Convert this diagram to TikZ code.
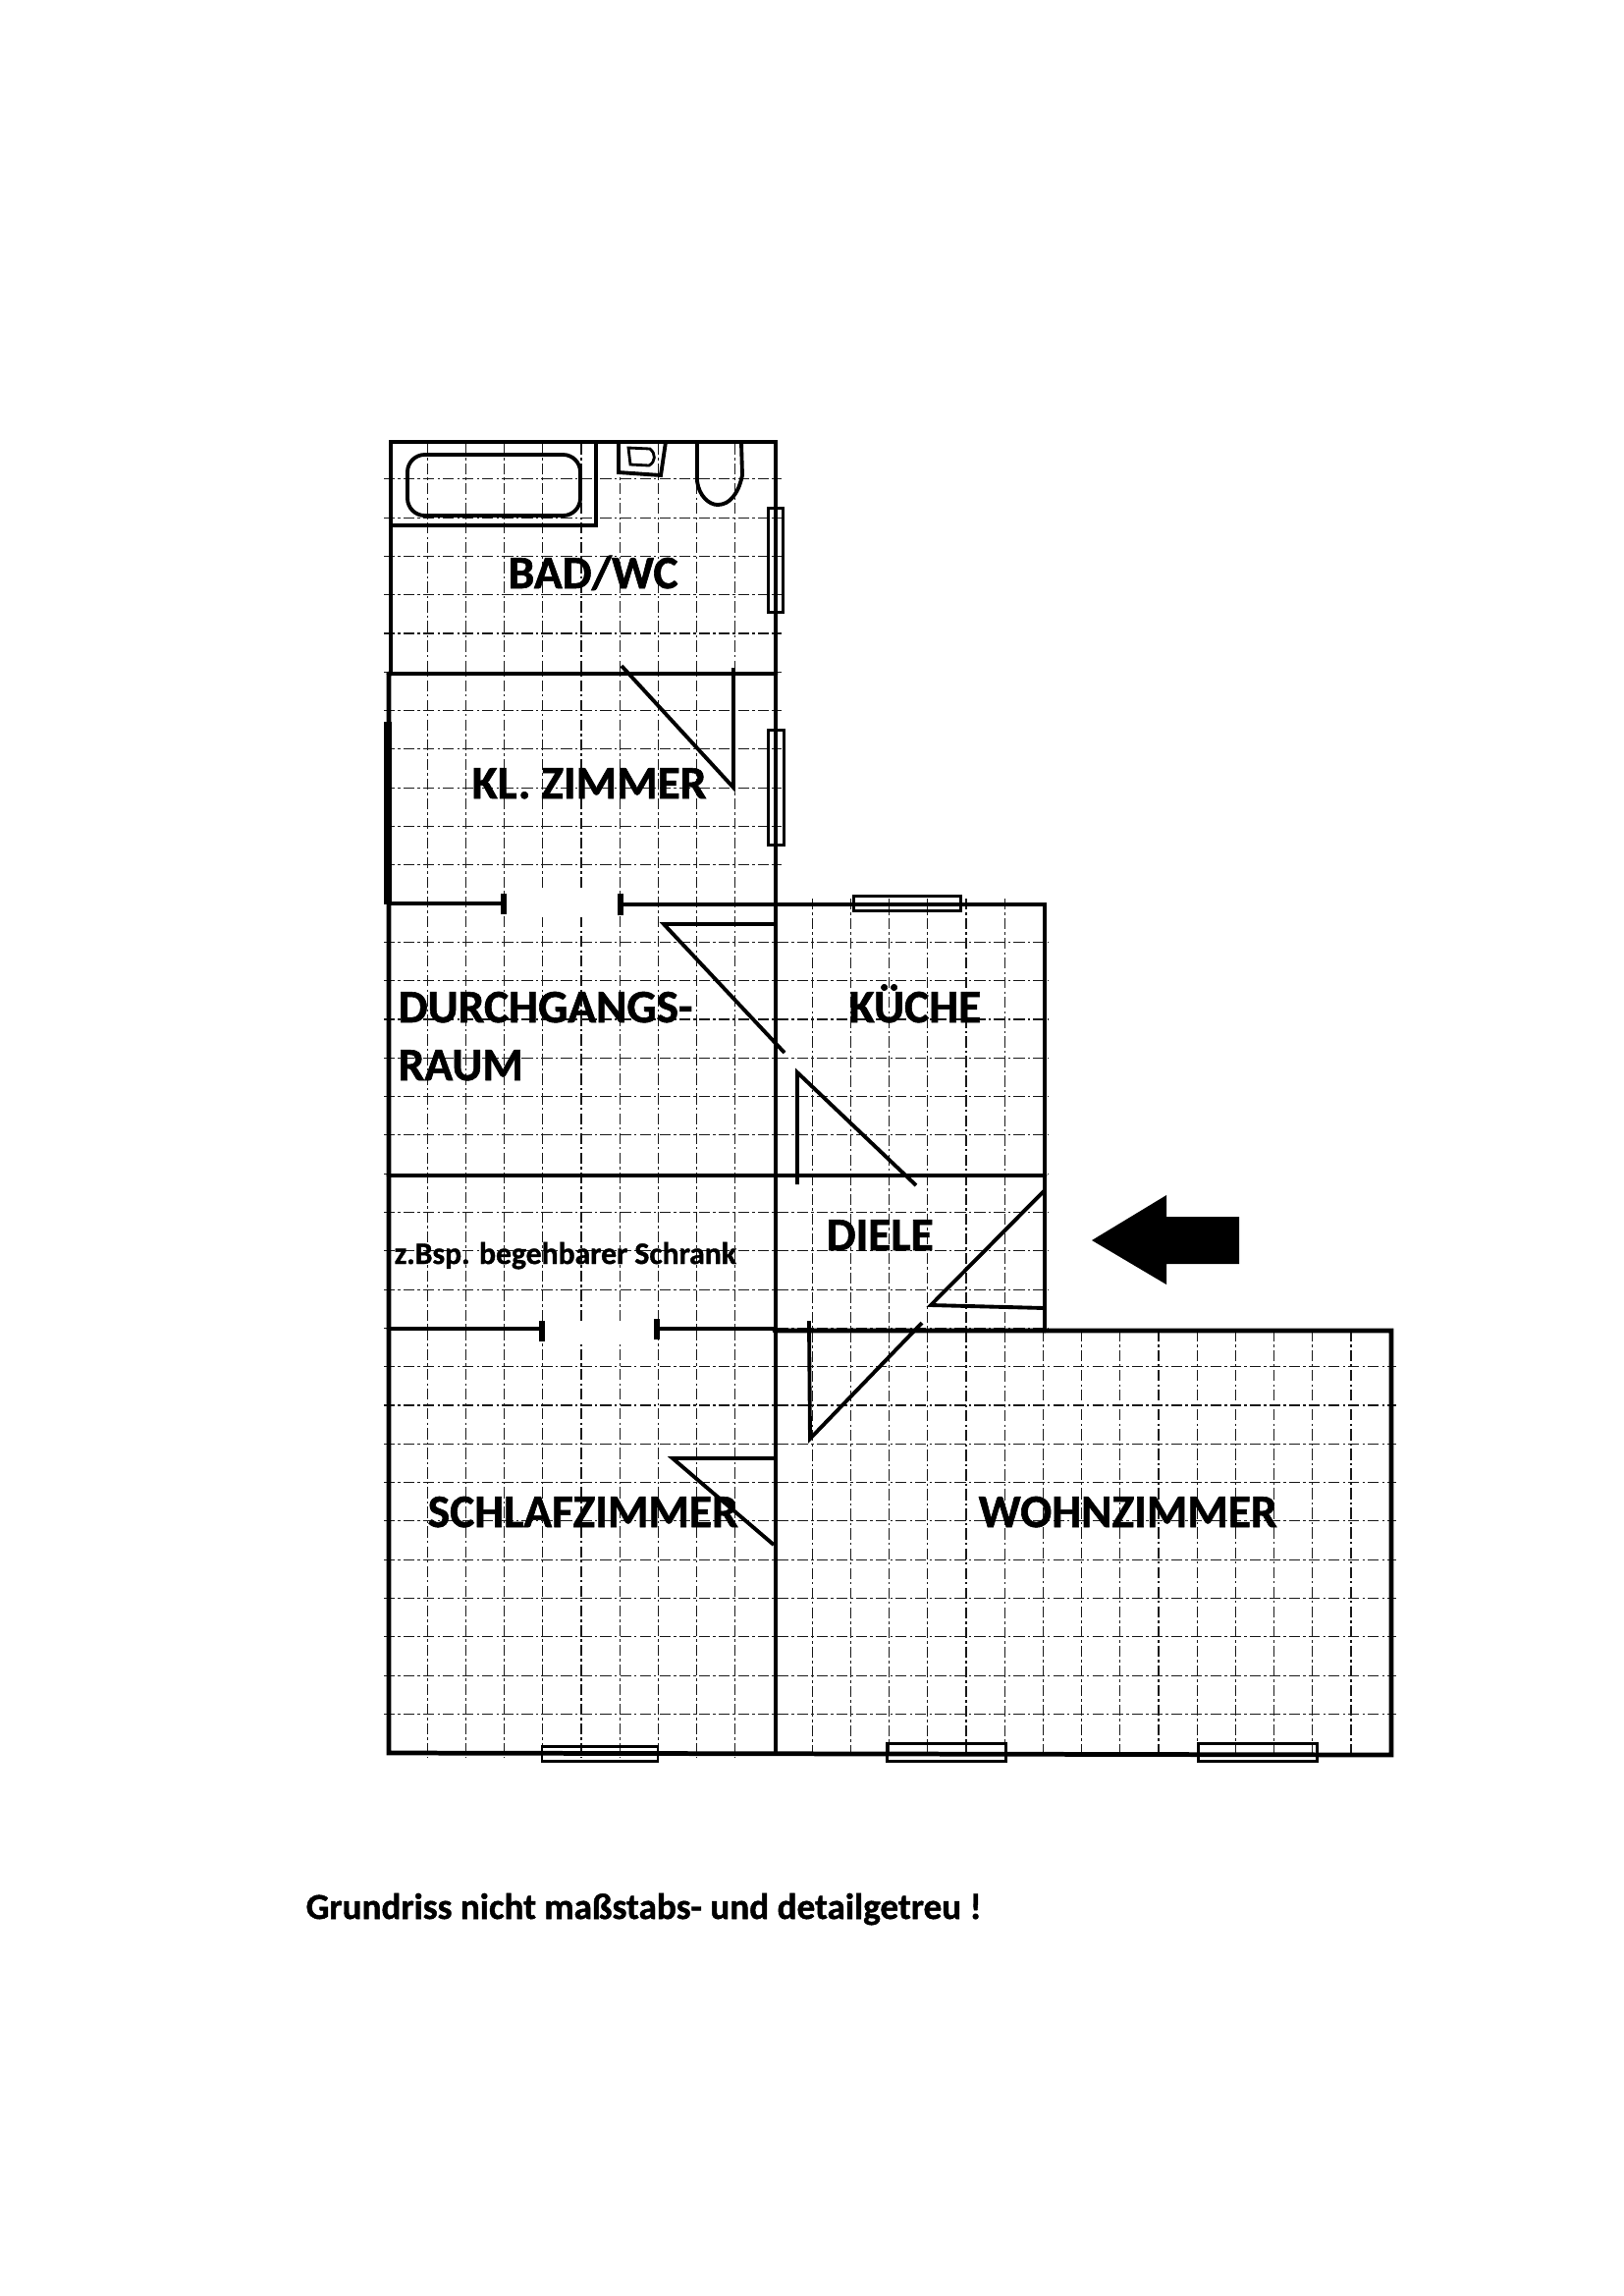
\documentclass[tikz,border=0pt]{standalone}
\usepackage{fontspec}
\setmainfont{Carlito}[BoldFeatures={FakeBold=1.2}]
\begin{document}
\begin{tikzpicture}
[x=0.01cm,y=-0.01cm,%
  griddecorate/.style={line width=0.32pt,black!90,dash pattern=on 3.2pt off 0.9pt on 0.7pt off 0.9pt},%
  walldecorate/.style={line width=1.35pt,line cap=round},%
  thindecorate/.style={line width=1.1pt},%
  windowdecorate/.style={draw,line width=0.85pt,fill=none},%
  roomdecorate/.style={anchor=base west,inner sep=0pt,font=\bfseries\fontsize{13.5}{15}\selectfont}]
\useasboundingbox (0,0) rectangle (1653,2338);
%% grid of the sheet
\foreach \k in {1,...,33} {
  \pgfmathsetmacro{\yy}{448.5+39.3*\k}
  \ifnum\k<13
    \draw[griddecorate] (391,\yy) -- (796,\yy);
  \else\ifnum\k<24
    \draw[griddecorate] (391,\yy) -- (1068,\yy);
  \else
    \draw[griddecorate] (391,\yy) -- (1422,\yy);
  \fi\fi
}
\foreach \k in {1,...,9} {
  \pgfmathsetmacro{\xx}{396+39.2*\k}
  \draw[griddecorate] (\xx,452) -- (\xx,1790);
}
\foreach \k in {11,...,16} {
  \pgfmathsetmacro{\xx}{396+39.2*\k}
  \draw[griddecorate] (\xx,915) -- (\xx,1790);
}
\foreach \k in {17,...,25} {
  \pgfmathsetmacro{\xx}{396+39.2*\k}
  \draw[griddecorate] (\xx,1355) -- (\xx,1790);
}
%% openings are left blank
\fill[white] (516,906) rectangle (630,934);
\fill[white] (555,1345) rectangle (667,1369);
%% walls
\draw[walldecorate] (398,686) -- (398,450) -- (790,450) -- (790,1785);
\draw[walldecorate] (396,686) -- (790,686);
\draw[walldecorate] (396,686) -- (396,1785) -- (1417,1787) -- (1417,1355) -- (789,1355);
\draw[line width=2pt] (395,735) -- (395,920);
\draw[walldecorate] (396,920) -- (513,920);
\draw[walldecorate] (633,921) -- (1064,921) -- (1064,1355);
\draw[walldecorate] (396,1197) -- (1064,1197);
\draw[walldecorate] (396,1353) -- (552,1353);
\draw[walldecorate] (669,1353) -- (789,1353);
%% door jambs
\foreach \x/\ya/\yb in {513/910/931, 632/910/932, 552/1345/1366, 669/1343/1364} {
  \draw[line width=1.5pt] (\x,\ya) -- (\x,\yb);
}
%% door leaves
\foreach \ax/\ay/\bx/\by/\cx/\cy in {633/678/747/802/747/680, 799/1072/676/941/790/941,
  933/1207/812/1092/812/1206, 1064/1212/948/1329/1064/1332,
  939/1347/825/1465/824/1345, 788/1573/685/1485/789/1485} {
  \draw[thindecorate] (\ax,\ay) -- (\bx,\by) -- (\cx,\cy);
}
%% windows
\foreach \xa/\ya/\xb/\yb in {782/517/797/623, 782/743/798/860, 869/912/978/927,
  552/1778/670/1793, 903/1775/1024/1793, 1220/1775/1341/1793} {
  \draw[windowdecorate] (\xa,\ya) rectangle (\xb,\yb);
}
%% bathroom fittings
\draw[thindecorate] (398,535) -- (607,535) -- (607,450);
\draw[thindecorate,rounded corners=5pt] (415,463) rectangle (591,525);
\draw[thindecorate] (630,450) -- (630,481) -- (673,484) -- (678,450);
\draw[line width=0.8pt] (640,456) -- (662,457) .. controls (668,462) and (668,470) .. (661,474)
  -- (642,473) -- cycle;
\draw[thindecorate] (710,450) -- (710,490) .. controls (712,505) and (722,514) .. (731,514)
  .. controls (743,514) and (752,503) .. (756,484) -- (755,450);
%% entrance arrow
\fill[black] (1112,1263) -- (1188,1217) -- (1188,1239) -- (1262,1239) -- (1262,1287)
  -- (1188,1287) -- (1188,1308) -- cycle;
%% labels
\foreach \nodename/\x/\y/\nodetext in {badwc/517/599/BAD\slash WC, klzimmer/480/813/KL. ZIMMER,
  durchgang/405/1041/DURCHGANGS-, raum/405/1100/RAUM, kueche/864/1041/KÜCHE,
  diele/841/1273/DIELE, schlaf/435/1555/SCHLAFZIMMER, wohn/996/1555/WOHNZIMMER} {
  \node (\nodename) at (\x,\y) [roomdecorate] {\nodetext};
}
\node (schrank) at (401,1287) [roomdecorate,font=\bfseries\fontsize{9}{11}\selectfont] {z.Bsp. begehbarer Schrank};
\node (hinweis) at (311,1954) [roomdecorate,font=\bfseries\fontsize{10.57}{12}\selectfont] {Grundriss nicht maßstabs- und detailgetreu !};
\end{tikzpicture}
\end{document}
